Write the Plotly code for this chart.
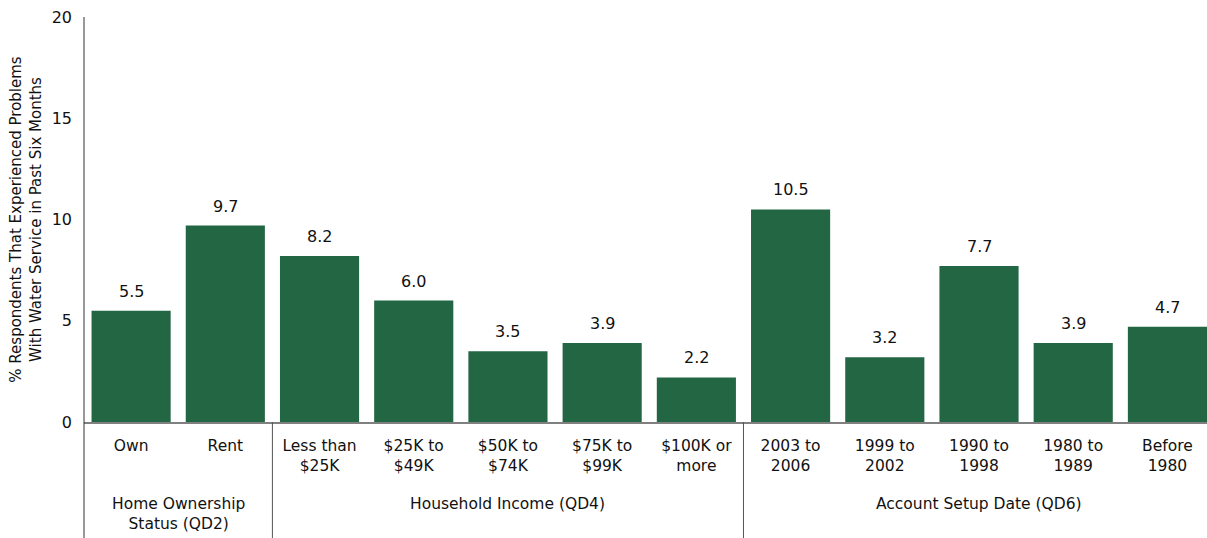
import plotly.graph_objects as go

# Survey results: % of respondents reporting water-service problems
categories = [
    "Own", "Rent",
    "Less than<br>$25K", "$25K to<br>$49K", "$50K to<br>$74K", "$75K to<br>$99K", "$100K or<br>more",
    "2003 to<br>2006", "1999 to<br>2002", "1990 to<br>1998", "1980 to<br>1989", "Before<br>1980",
]
values = [5.5, 9.7, 8.2, 6.0, 3.5, 3.9, 2.2, 10.5, 3.2, 7.7, 3.9, 4.7]

group_labels = ["Home Ownership<br>Status (QD2)", "Household Income (QD4)", "Account Setup Date (QD6)"]
group_sizes = [2, 5, 5]

y_ticks = [0, 5, 10, 15, 20]

FONT = "DejaVu Sans, Verdana, sans-serif"
BAR_COLOR = "#236644"
TEXT = "#111"

x_pos = list(range(len(categories)))

fig = go.Figure(
    go.Bar(
        x=x_pos,
        y=values,
        marker=dict(color=BAR_COLOR, line=dict(width=0)),
        width=0.84,
        hoverinfo="skip",
    )
)

# value labels above each bar
for xi, v in zip(x_pos, values):
    fig.add_annotation(
        x=xi, y=v, xref="x", yref="y",
        text=f"{v:.1f}", showarrow=False,
        yanchor="bottom", yshift=8,
        font=dict(family=FONT, size=16, color=TEXT),
    )

# group labels and dividers below the category axis
shapes = []
start = 0
for label, size in zip(group_labels, group_sizes):
    center = start + (size - 1) / 2
    fig.add_annotation(
        x=center, y=-0.175, xref="x", yref="paper",
        text=label, showarrow=False, yanchor="top",
        font=dict(family=FONT, size=15.5, color=TEXT),
    )
    start += size
    if start < len(categories):
        shapes.append(dict(
            type="line", xref="x", yref="paper",
            x0=start - 0.5, x1=start - 0.5, y0=0, y1=-0.3,
            line=dict(color="#555", width=1),
        ))

# extend the value axis line down through the label area
shapes.append(dict(
    type="line", xref="paper", yref="paper",
    x0=0, x1=0, y0=1, y1=-0.3,
    line=dict(color="#333", width=1),
))

fig.update_layout(
    width=1207, height=538,
    margin=dict(l=84, r=0, t=17, b=116),
    plot_bgcolor="white", paper_bgcolor="white",
    showlegend=False,
    shapes=shapes,
    font=dict(family=FONT, size=15.5, color=TEXT),
    xaxis=dict(
        range=[-0.5, 11.42],
        tickmode="array", tickvals=x_pos, ticktext=categories,
        showgrid=False, zeroline=False,
        showline=True, linecolor="#808080", linewidth=2,
        ticks="", ticklabelstandoff=8,
        tickfont=dict(family=FONT, size=15.5, color=TEXT),
    ),
    yaxis=dict(
        range=[0, 20],
        tickmode="array", tickvals=y_ticks,
        showgrid=False, zeroline=False,
        showline=False,
        ticks="", ticklabelstandoff=11,
        tickfont=dict(family=FONT, size=16, color=TEXT),
        title=dict(
            text="% Respondents That Experienced Problems<br>With Water Service in Past Six Months",
            font=dict(family=FONT, size=15, color=TEXT),
            standoff=6,
        ),
    ),
)

fig.write_html("out.html")
